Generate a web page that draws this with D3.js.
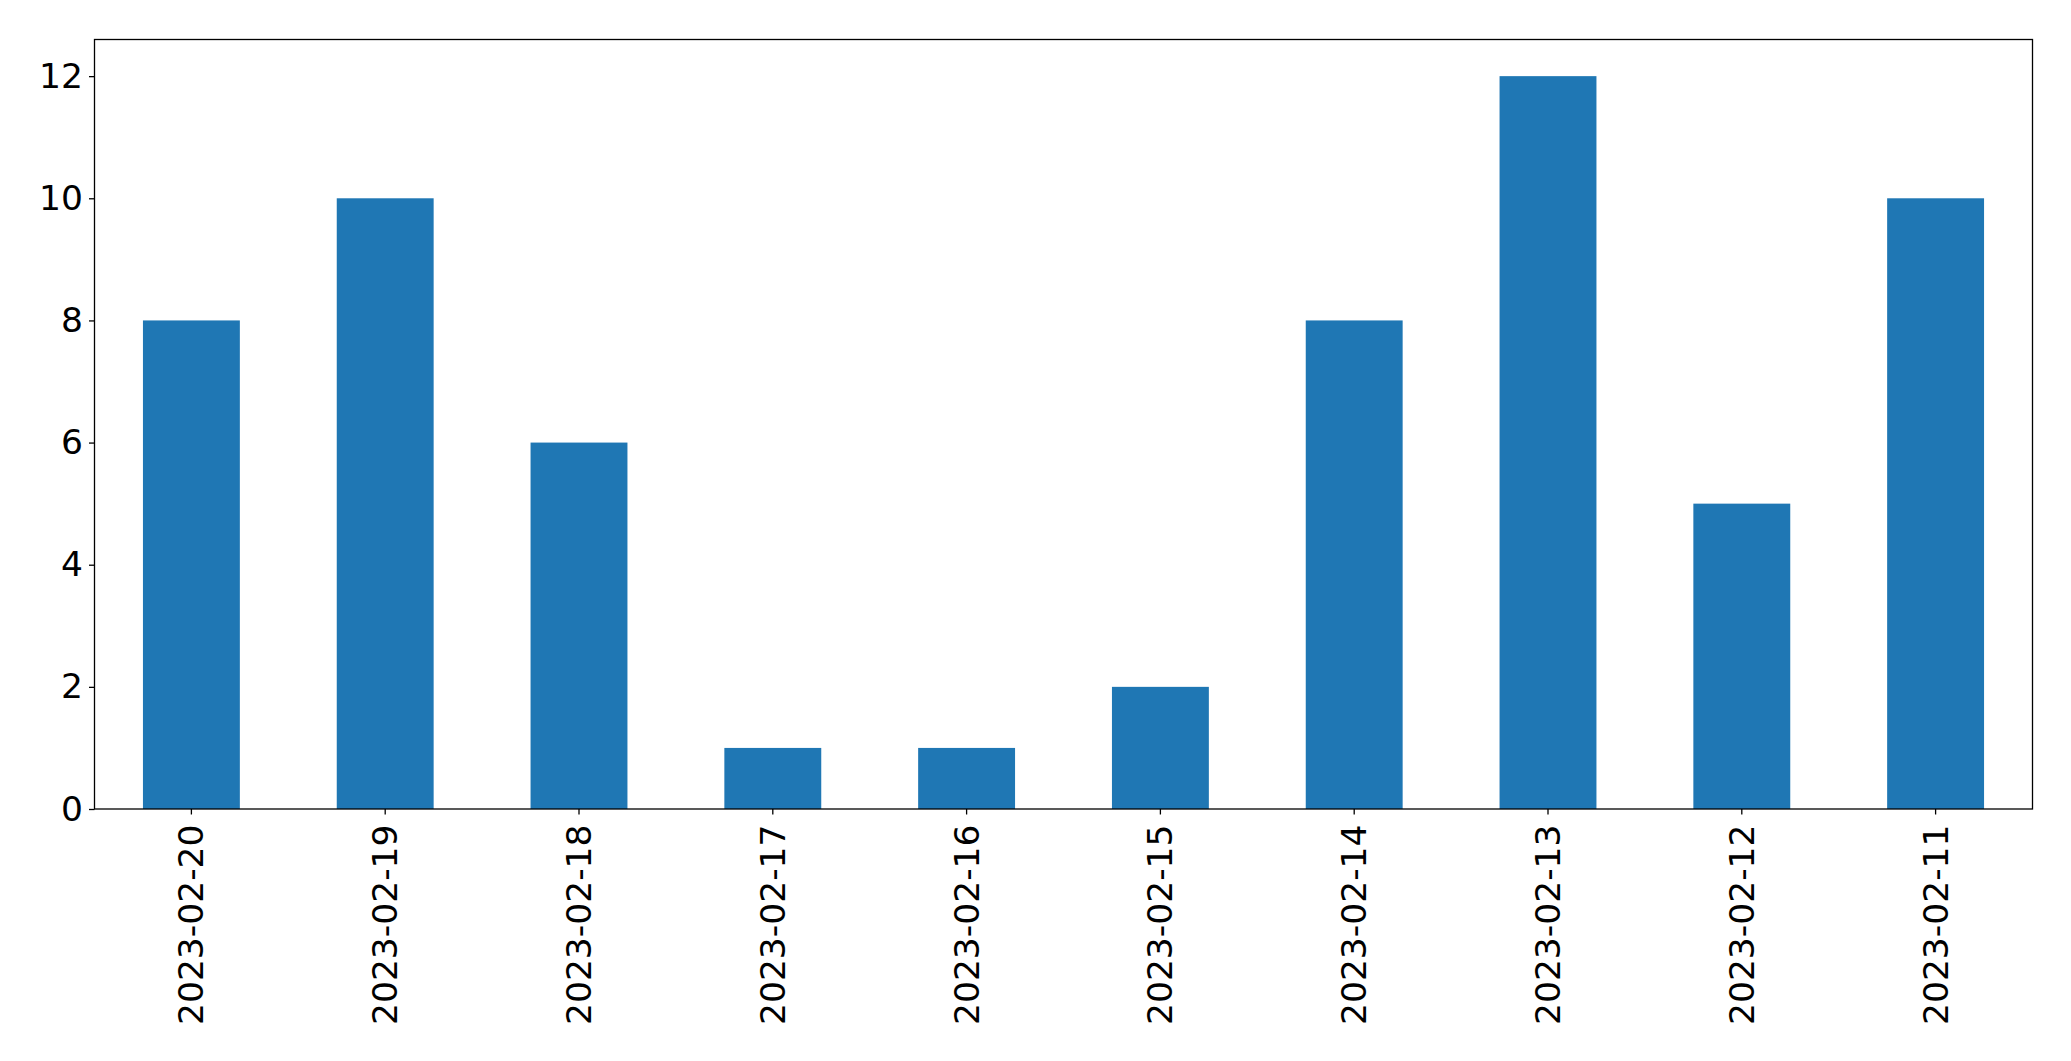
<!DOCTYPE html>
<html>
<head>
<meta charset="utf-8">
<script src="https://cdn.jsdelivr.net/npm/d3@7"></script>
<style>
  html, body { margin: 0; padding: 0; background: #fff; }
  svg { display: block; }
</style>
</head>
<body>
<svg id="chart" width="2071" height="1061"></svg>
<script>
const categories = ["2023-02-20","2023-02-19","2023-02-18","2023-02-17","2023-02-16","2023-02-15","2023-02-14","2023-02-13","2023-02-12","2023-02-11"];
const values = [8, 10, 6, 1, 1, 2, 8, 12, 5, 10];
const yTicks = [0, 2, 4, 6, 8, 10, 12];

const W = 2071, H = 1061;
const margin = {left: 94.5, right: W - 2032.5, top: 39.5, bottom: H - 809};
const svg = d3.select("#chart");
const font = "'DejaVu Sans', sans-serif";
const fs = 34.5;

const x = d3.scaleBand().domain(categories)
  .range([margin.left, W - margin.right]).paddingInner(0.5).paddingOuter(0.25);
const y = d3.scaleLinear().domain([0, 12.6]).range([H - margin.bottom, margin.top]);

svg.append("g").selectAll("rect").data(values).join("rect")
  .attr("x", (d, i) => x(categories[i]))
  .attr("width", x.bandwidth())
  .attr("y", d => y(d))
  .attr("height", d => y(0) - y(d))
  .attr("fill", "#1f77b4");

// frame
svg.append("rect")
  .attr("x", margin.left).attr("y", margin.top)
  .attr("width", W - margin.right - margin.left)
  .attr("height", H - margin.bottom - margin.top)
  .attr("fill", "none").attr("stroke", "#000").attr("stroke-width", 1.3);

const yAxis = svg.append("g")
  .attr("transform", `translate(${margin.left},0)`)
  .call(d3.axisLeft(y).tickValues(yTicks).tickSize(5.5).tickPadding(6).tickFormat(d3.format("d")));
yAxis.select(".domain").remove();
yAxis.selectAll(".tick line").attr("stroke", "#000").attr("stroke-width", 1.3);
yAxis.selectAll(".tick text").attr("font-family", font).attr("font-size", fs).attr("fill", "#000");

const xAxis = svg.append("g")
  .attr("transform", `translate(0,${H - margin.bottom})`)
  .call(d3.axisBottom(x).tickSize(5.5).tickPadding(0));
xAxis.select(".domain").remove();
xAxis.selectAll(".tick line").attr("stroke", "#000").attr("stroke-width", 1.3);
xAxis.selectAll(".tick text")
  .attr("font-family", font).attr("font-size", fs).attr("fill", "#000")
  .attr("text-anchor", "end")
  .attr("transform", "translate(0,15.5) rotate(-90)")
  .attr("x", 0).attr("y", 0).attr("dy", "0.35em");
</script>
</body>
</html>
